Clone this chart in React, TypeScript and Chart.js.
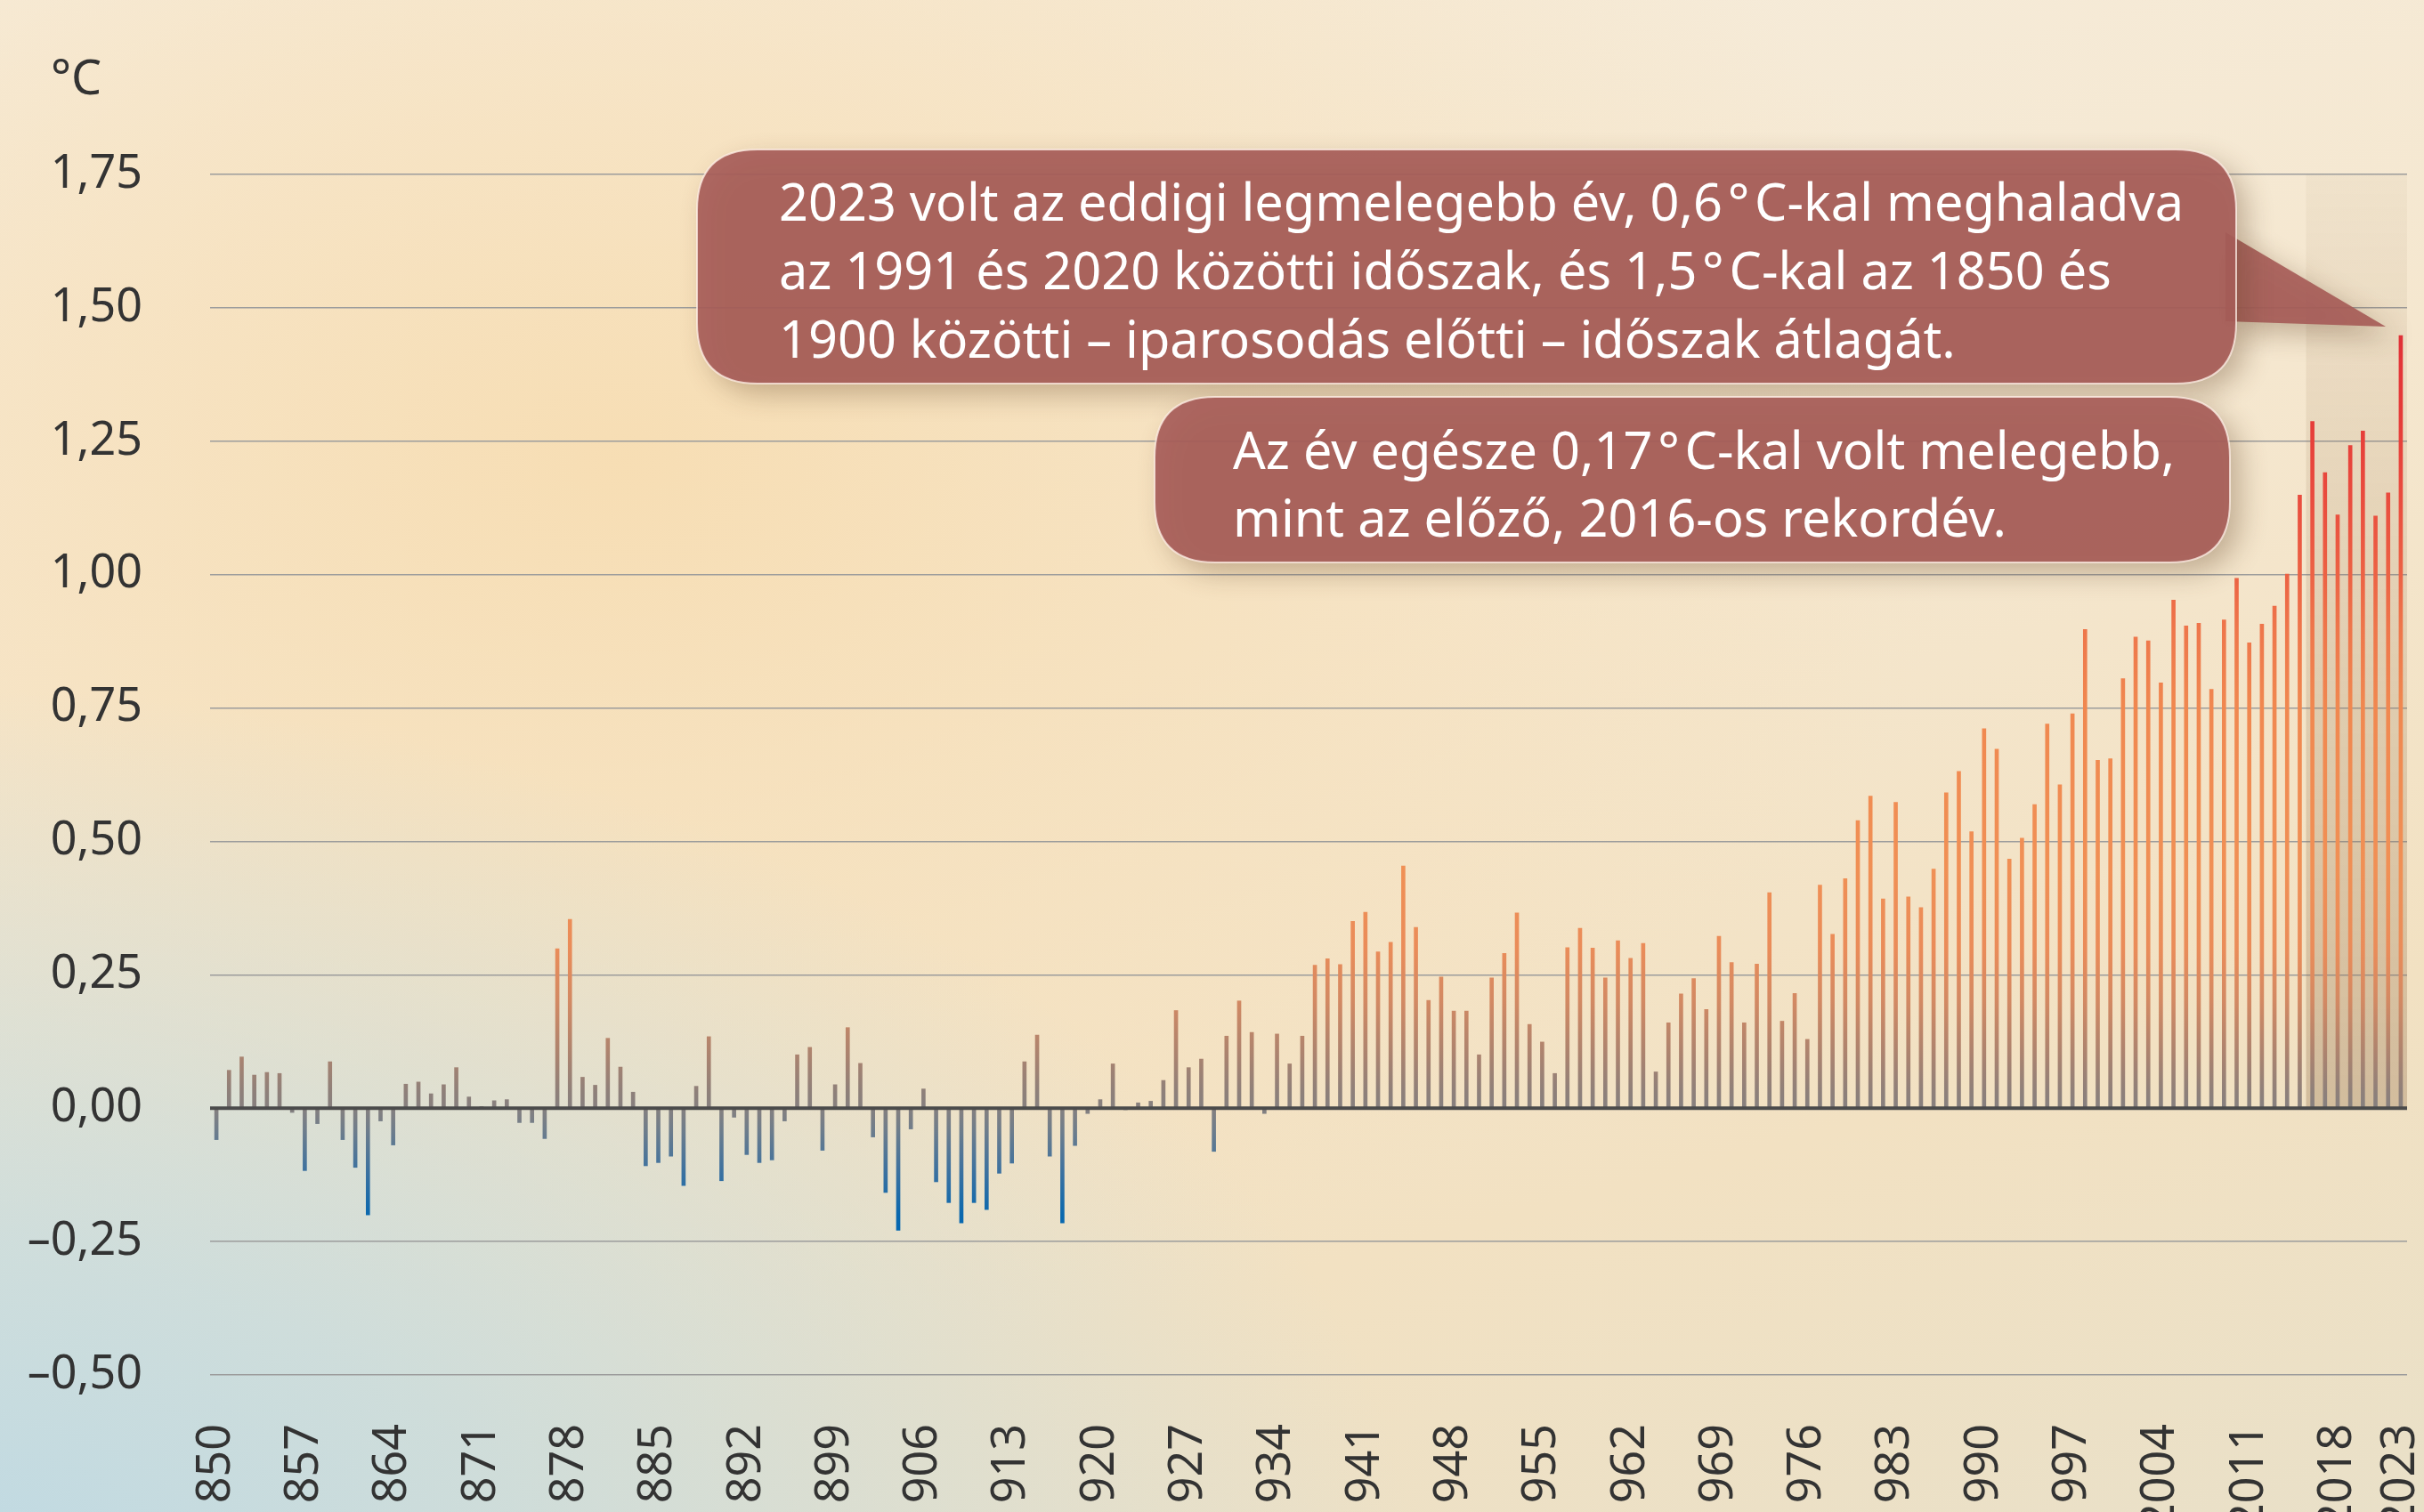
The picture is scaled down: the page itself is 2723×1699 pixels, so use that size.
import React, { useEffect, useRef } from 'react';
import { Chart, registerables } from 'chart.js';

Chart.register(...registerables);

const W = 2723;
const H = 1699;
const FONT = '"Noto Sans", "Open Sans", sans-serif';

// categories
const years: string[] = [];
for (let y = 1850; y <= 2023; y++) years.push(String(y));

// anomalies (°C)
const anom1850_1874 = [
  -0.059, 0.071, 0.096, 0.062, 0.067, 0.065, -0.008, -0.117, -0.029, 0.087,
  -0.059, -0.111, -0.2, -0.024, -0.069, 0.045, 0.049, 0.027, 0.044, 0.076,
  0.021, 0.003, 0.014, 0.016, -0.027,
];
const anom1875_1899 = [
  -0.027, -0.057, 0.299, 0.354, 0.058, 0.043, 0.131, 0.077, 0.03, -0.108,
  -0.102, -0.09, -0.145, 0.041, 0.134, -0.136, -0.017, -0.087, -0.102, -0.097,
  -0.024, 0.1, 0.114, -0.079, 0.044,
];
const anom1900_1924 = [
  0.151, 0.084, -0.054, -0.158, -0.229, -0.039, 0.036, -0.138, -0.177, -0.215,
  -0.177, -0.19, -0.122, -0.103, 0.087, 0.137, -0.09, -0.215, -0.07, -0.01,
  0.016, 0.083, -0.003, 0.01, 0.013,
];
const anom1925_1949 = [
  0.052, 0.183, 0.076, 0.092, -0.081, 0.135, 0.201, 0.142, -0.01, 0.139,
  0.083, 0.135, 0.268, 0.28, 0.269, 0.35, 0.367, 0.293, 0.311, 0.454,
  0.339, 0.202, 0.246, 0.182, 0.182,
];
const anom1950_1974 = [
  0.1, 0.244, 0.29, 0.366, 0.157, 0.124, 0.065, 0.301, 0.337, 0.3,
  0.244, 0.314, 0.281, 0.309, 0.068, 0.16, 0.214, 0.243, 0.185, 0.322,
  0.273, 0.16, 0.27, 0.404, 0.163,
];
const anom1975_1999 = [
  0.215, 0.129, 0.418, 0.326, 0.43, 0.539, 0.585, 0.392, 0.573, 0.396,
  0.376, 0.448, 0.591, 0.631, 0.518, 0.711, 0.673, 0.467, 0.506, 0.569,
  0.72, 0.606, 0.739, 0.897, 0.652,
];
const anom2000_2023 = [
  0.655, 0.805, 0.883, 0.876, 0.797, 0.952, 0.904, 0.909, 0.785, 0.915,
  0.993, 0.872, 0.907, 0.941, 1.001, 1.149, 1.287, 1.191, 1.112, 1.242,
  1.269, 1.11, 1.153, 1.448,
];
const anomalies = [
  ...anom1850_1874, ...anom1875_1899, ...anom1900_1924, ...anom1925_1949,
  ...anom1950_1974, ...anom1975_1999, ...anom2000_2023,
];

const unitLabel = '°C';
const note1Lines = [
  '2023 volt az eddigi legmelegebb év, 0,6\u200A°\u200AC-kal meghaladva',
  'az 1991 és 2020 közötti időszak, és 1,5\u200A°\u200AC-kal az 1850 és',
  '1900 közötti – iparosodás előtti – időszak átlagát.',
];
const note2Lines = [
  'Az év egésze 0,17\u200A°\u200AC-kal volt melegebb,',
  'mint az előző, 2016-os rekordév.',
];
const highlightFromYear = '2016';

const colorStops: [number, string][] = [
  [1.5, '#e12e38'],
  [1.3, '#e53b38'],
  [1.15, '#e94b3e'],
  [1.0, '#ec6244'],
  [0.9, '#ee764b'],
  [0.75, '#f08850'],
  [0.45, '#f09055'],
  [0.3, '#ea8c59'],
  [0.2, '#d28963'],
  [0.1, '#ab836f'],
  [0.03, '#8e807a'],
  [0.0, '#86807f'],
  [-0.04, '#6f7d8b'],
  [-0.12, '#3b71a0'],
  [-0.2, '#0a68ae'],
  [-0.25, '#0066b3'],
];

function fmtTick(v: number): string {
  const s = Math.abs(v).toFixed(2).replace('.', ',');
  return v < -1e-9 ? '\u2013' + s : s;
}

function roundRect(ctx: CanvasRenderingContext2D, x0: number, y0: number, x1: number, y1: number, r: number) {
  ctx.beginPath();
  ctx.moveTo(x0 + r, y0);
  ctx.lineTo(x1 - r, y0);
  ctx.quadraticCurveTo(x1, y0, x1, y0 + r);
  ctx.lineTo(x1, y1 - r);
  ctx.quadraticCurveTo(x1, y1, x1 - r, y1);
  ctx.lineTo(x0 + r, y1);
  ctx.quadraticCurveTo(x0, y1, x0, y1 - r);
  ctx.lineTo(x0, y0 + r);
  ctx.quadraticCurveTo(x0, y0, x0 + r, y0);
  ctx.closePath();
}

const BOX_FILL = 'rgba(166,92,88,0.92)';

const overlayPlugin = {
  id: 'overlay',
  beforeDatasetsDraw(chart: any) {
    const { ctx, chartArea, scales } = chart;
    const x = scales.x;
    const y = scales.y;
    const idx = years.indexOf(highlightFromYear);
    const step = x.getPixelForValue(1) - x.getPixelForValue(0);
    const left = x.getPixelForValue(idx) - step / 2;
    const top = y.getPixelForValue(1.75);
    const bottom = y.getPixelForValue(0);
    const g = ctx.createLinearGradient(0, top, 0, bottom);
    g.addColorStop(0, 'rgba(150,120,85,0.05)');
    g.addColorStop(1, 'rgba(150,115,80,0.33)');
    ctx.save();
    ctx.fillStyle = g;
    ctx.fillRect(left, top, chartArea.right - left, bottom - top);
    ctx.restore();
  },
  afterDatasetsDraw(chart: any) {
    const { ctx, chartArea, scales } = chart;
    const y0 = scales.y.getPixelForValue(0);
    ctx.save();
    ctx.strokeStyle = '#4b4b4b';
    ctx.lineWidth = 4;
    ctx.beginPath();
    ctx.moveTo(chartArea.left, y0);
    ctx.lineTo(chartArea.right, y0);
    ctx.stroke();
    ctx.restore();
  },
  afterDraw(chart: any) {
    const { ctx } = chart;
    ctx.save();
    // unit label
    ctx.fillStyle = '#333333';
    ctx.font = `54px ${FONT}`;
    ctx.textBaseline = 'alphabetic';
    ctx.textAlign = 'left';
    ctx.fillText(unitLabel, 57, 106);

    // callouts (with pointer)
    ctx.save();
    ctx.shadowColor = 'rgba(90,60,30,0.35)';
    ctx.shadowBlur = 30;
    ctx.shadowOffsetX = 12;
    ctx.shadowOffsetY = 12;
    ctx.fillStyle = BOX_FILL;
    ctx.beginPath();
    ctx.moveTo(2500, 261);
    ctx.lineTo(2680, 367);
    ctx.lineTo(2500, 361);
    ctx.closePath();
    ctx.fill();
    roundRect(ctx, 783, 168, 2512, 431, 68);
    ctx.fill();
    roundRect(ctx, 1297, 446, 2505, 632, 68);
    ctx.fill();
    ctx.restore();

    ctx.strokeStyle = 'rgba(255,240,232,0.75)';
    ctx.lineWidth = 2;
    roundRect(ctx, 783, 168, 2512, 431, 68);
    ctx.stroke();
    roundRect(ctx, 1297, 446, 2505, 632, 68);
    ctx.stroke();

    // texts
    const size = 58;
    ctx.font = `${size}px ${FONT}`;
    const w = ctx.measureText(note1Lines[0]).width;
    const sx = Math.min(1.1, 1578 / w);
    ctx.fillStyle = '#ffffff';
    const drawLines = (lines: string[], x: number, baselines: number[]) => {
      lines.forEach((t, i) => {
        ctx.save();
        ctx.translate(x, baselines[i]);
        ctx.scale(sx, 1);
        ctx.fillText(t, 0, 0);
        ctx.restore();
      });
    };
    drawLines(note1Lines, 875, [248, 325, 402]);
    drawLines(note2Lines, 1385, [527, 603]);
    ctx.restore();
  },
};

export default function App() {
  const canvasRef = useRef<HTMLCanvasElement | null>(null);

  useEffect(() => {
    const canvas = canvasRef.current;
    if (!canvas) return;

    const barColor = (context: any) => {
      const chart = context.chart;
      const { ctx, chartArea, scales } = chart;
      if (!chartArea || !scales.y) return '#888';
      const top = scales.y.getPixelForValue(1.5);
      const bot = scales.y.getPixelForValue(-0.25);
      const g = ctx.createLinearGradient(0, top, 0, bot);
      for (const [v, c] of colorStops) g.addColorStop((1.5 - v) / 1.75, c);
      return g;
    };

    const chart = new Chart(canvas, {
      type: 'bar',
      data: {
        labels: years,
        datasets: [
          {
            data: anomalies,
            backgroundColor: barColor,
            borderWidth: 0,
            barThickness: 4,
          },
        ],
      },
      options: {
        responsive: false,
        maintainAspectRatio: false,
        animation: false,
        devicePixelRatio: 1,
        layout: { padding: { top: 196, right: 19, left: 0, bottom: 0 } },
        plugins: {
          legend: { display: false },
          tooltip: { enabled: false },
          title: { display: false },
        },
        scales: {
          x: {
            grid: { display: false, drawTicks: false, tickLength: 0 },
            border: { display: false },
            ticks: {
              autoSkip: false,
              maxRotation: 90,
              minRotation: 90,
              padding: 55,
              color: '#333333',
              font: { family: FONT, size: 52 },
              callback: (_v: any, i: number) =>
                i % 7 === 0 || i === years.length - 1 ? years[i] : '',
            },
            afterFit: (s: any) => {
              s.height = 154;
              s.paddingLeft = 0;
              s.paddingRight = 0;
            },
          },
          y: {
            min: -0.5,
            max: 1.75,
            grid: { color: '#9c9c9c', lineWidth: 1.5, drawTicks: false, tickLength: 0 },
            border: { display: false },
            ticks: {
              stepSize: 0.25,
              padding: 76,
              color: '#333333',
              font: { family: FONT, size: 52 },
              callback: (v: any) => fmtTick(Number(v)),
            },
            afterFit: (s: any) => {
              s.width = 236;
            },
          },
        },
      },
      plugins: [overlayPlugin],
    });

    return () => chart.destroy();
  }, []);

  return (
    <div
      style={{
        position: 'fixed',
        left: 0,
        top: 0,
        width: W,
        height: H,
        overflow: 'hidden',
        background:
          'radial-gradient(ellipse 1700px 1050px at -100px 1820px, rgba(188,217,229,1) 0%, rgba(194,219,226,0.75) 40%, rgba(210,222,215,0) 100%),' +
          'radial-gradient(ellipse 1500px 1000px at 700px 520px, rgba(247,221,178,0.95) 0%, rgba(247,221,178,0) 100%),' +
          'linear-gradient(165deg, #f6eee0 0%, #f5e7cf 45%, #f2e1c2 75%, #e9e0c8 100%)',
      }}
    >
      <canvas ref={canvasRef} width={W} height={H} style={{ display: 'block', width: W, height: H }} />
    </div>
  );
}
